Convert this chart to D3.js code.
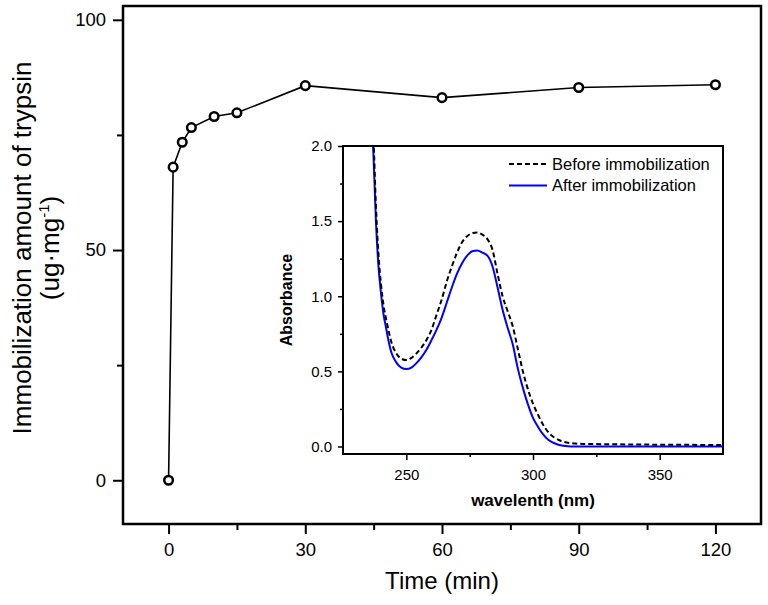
<!DOCTYPE html>
<html>
<head>
<meta charset="utf-8">
<script src="https://cdn.jsdelivr.net/npm/d3@7"></script>
<style>
  body { margin: 0; background: #fff; }
  svg { display: block; }
  text { font-family: "Liberation Sans", Arial, sans-serif; fill: #000; }
</style>
</head>
<body>
<svg id="chart" width="768" height="605"></svg>
<script>
// main plot: immobilized amount vs time
const times = [0, 1, 3, 5, 10, 15, 30, 60, 90, 120];
const amounts = [0, 68.0, 73.4, 76.6, 79.0, 79.8, 85.7, 83.1, 85.3, 85.9];
const timeTicks = [0, 30, 60, 90, 120];
const timeMinor = [15, 45, 75, 105];
const amountTicks = [0, 50, 100];
const amountMinor = [25, 75];

// inset: UV spectra
const wavelengths = [236, 237, 238, 239, 240, 241, 242, 243, 244, 246, 248, 250, 252, 254, 256, 258,
  260, 262, 264, 266, 268, 270, 272, 274, 276, 278, 280, 282, 284, 286, 288, 290, 292, 294, 296,
  298, 300, 302, 304, 306, 308, 310, 312, 315, 320, 330, 350, 375];
const before = [2.2, 2.05, 1.6, 1.28, 1.08, 0.94, 0.85, 0.77, 0.70, 0.62, 0.585, 0.575, 0.59, 0.62, 0.66, 0.71,
  0.78, 0.88, 0.98, 1.10, 1.20, 1.29, 1.36, 1.40, 1.42, 1.425, 1.41, 1.38, 1.31, 1.15, 1.00, 0.90, 0.80, 0.65, 0.50,
  0.38, 0.285, 0.21, 0.145, 0.095, 0.065, 0.045, 0.032, 0.022, 0.017, 0.015, 0.012, 0.01];
const after = [2.2, 1.95, 1.5, 1.2, 1.02, 0.88, 0.79, 0.70, 0.63, 0.56, 0.525, 0.515, 0.525, 0.555, 0.595, 0.645,
  0.71, 0.78, 0.86, 0.96, 1.06, 1.15, 1.22, 1.27, 1.30, 1.305, 1.29, 1.27, 1.20, 1.06, 0.91, 0.79, 0.68, 0.52, 0.39,
  0.28, 0.19, 0.13, 0.08, 0.045, 0.025, 0.012, 0.005, 0.0, 0.0, 0.0, 0.0, 0.0];
const waveTicks = [250, 300, 350];
const waveMinor = [275, 325];
const absTicks = [0, 0.5, 1.0, 1.5, 2.0];
const absMinor = [0.25, 0.75, 1.25, 1.75];
const seriesNames = ["Before immobilization", "After immobilization"];

const svg = d3.select("#chart");
const FONT = "Liberation Sans, Arial, sans-serif";

// ---------- main chart ----------
const x = d3.scaleLinear().domain([-10, 130]).range([123, 761]);
const y = d3.scaleLinear().domain([-9.5, 103]).range([524, 6]);

function styleAxis(g, w) {
  g.select(".domain").remove();
  g.selectAll(".tick line").attr("stroke", "#000").attr("stroke-width", w);
}

svg.append("g").attr("transform", "translate(0,524)")
  .call(d3.axisBottom(x).tickValues(timeMinor).tickSize(6).tickFormat(""))
  .call(g => styleAxis(g, 2));
svg.append("g").attr("transform", "translate(0,524)")
  .call(d3.axisBottom(x).tickValues(timeTicks).tickSize(10).tickPadding(9))
  .call(g => styleAxis(g, 2))
  .selectAll("text").attr("font-size", 18.5).style("font-family", FONT);

svg.append("g").attr("transform", "translate(123,0)")
  .call(d3.axisLeft(y).tickValues(amountMinor).tickSize(6).tickFormat(""))
  .call(g => styleAxis(g, 2));
svg.append("g").attr("transform", "translate(123,0)")
  .call(d3.axisLeft(y).tickValues(amountTicks).tickSize(10).tickPadding(7))
  .call(g => styleAxis(g, 2))
  .selectAll("text").attr("font-size", 18.5).style("font-family", FONT);

svg.append("rect")
  .attr("x", 123).attr("y", 6).attr("width", 761 - 123).attr("height", 524 - 6)
  .attr("fill", "none").attr("stroke", "#000").attr("stroke-width", 2.5);

const pts = times.map((t, i) => [t, amounts[i]]);
svg.append("path")
  .datum(pts)
  .attr("fill", "none").attr("stroke", "#000").attr("stroke-width", 1.6)
  .attr("d", d3.line().x(d => x(d[0])).y(d => y(d[1])));

svg.selectAll(".pt")
  .data(pts)
  .enter().append("circle")
  .attr("class", "pt")
  .attr("cx", d => x(d[0])).attr("cy", d => y(d[1]))
  .attr("r", 4.3)
  .attr("fill", "#fff").attr("stroke", "#000").attr("stroke-width", 2.5);

svg.append("text")
  .attr("x", 442).attr("y", 589)
  .attr("text-anchor", "middle").attr("font-size", 24)
  .text("Time (min)");

const yt = svg.append("text")
  .attr("transform", "translate(31,248) rotate(-90)")
  .attr("text-anchor", "middle").attr("font-size", 26);
yt.append("tspan").attr("x", 0).attr("y", 0).text("Immobilization amount of trypsin");
const yt2 = yt.append("tspan").attr("x", 0).attr("y", 28);
yt2.append("tspan").text("(ug\u00b7mg");
yt2.append("tspan").attr("font-size", 15).attr("dy", -10).text("-1");
yt2.append("tspan").attr("dy", 10).text(")");

// ---------- inset ----------
const ix = d3.scaleLinear().domain([225, 375]).range([343, 723]);
const iy = d3.scaleLinear().domain([-0.05, 2.0]).range([454, 146]);

svg.append("rect")
  .attr("x", 343).attr("y", 146).attr("width", 723 - 343).attr("height", 454 - 146)
  .attr("fill", "#fff");

svg.append("defs").append("clipPath").attr("id", "insetClip")
  .append("rect")
  .attr("x", 343).attr("y", 146).attr("width", 723 - 343).attr("height", 454 - 146);

svg.append("g").attr("transform", "translate(0,454)")
  .call(d3.axisBottom(ix).tickValues(waveMinor).tickSize(3).tickFormat(""))
  .call(g => styleAxis(g, 1.5));
svg.append("g").attr("transform", "translate(0,454)")
  .call(d3.axisBottom(ix).tickValues(waveTicks).tickSize(6).tickPadding(9))
  .call(g => styleAxis(g, 1.5))
  .selectAll("text").attr("font-size", 15).style("font-family", FONT);

svg.append("g").attr("transform", "translate(343,0)")
  .call(d3.axisLeft(iy).tickValues(absMinor).tickSize(3).tickFormat(""))
  .call(g => styleAxis(g, 1.5));
svg.append("g").attr("transform", "translate(343,0)")
  .call(d3.axisLeft(iy).tickValues(absTicks).tickSize(5).tickPadding(6).tickFormat(d3.format(".1f")))
  .call(g => styleAxis(g, 1.5))
  .selectAll("text").attr("font-size", 15).style("font-family", FONT);

const spec = d3.line().curve(d3.curveMonotoneX).x(d => ix(d[0])).y(d => iy(d[1]));
const curves = svg.append("g").attr("clip-path", "url(#insetClip)");
curves.append("path")
  .datum(wavelengths.map((w, i) => [w, after[i]]))
  .attr("fill", "none").attr("stroke", "#0000ff").attr("stroke-width", 2)
  .attr("d", spec);
curves.append("path")
  .datum(wavelengths.map((w, i) => [w, before[i]]))
  .attr("fill", "none").attr("stroke", "#000").attr("stroke-width", 2)
  .attr("stroke-dasharray", "5,3")
  .attr("d", spec);

svg.append("rect")
  .attr("x", 343).attr("y", 146).attr("width", 723 - 343).attr("height", 454 - 146)
  .attr("fill", "none").attr("stroke", "#000").attr("stroke-width", 2);

// legend
const legend = svg.append("g");
const legStyles = [{ stroke: "#000", dash: "5,3" }, { stroke: "#0000ff", dash: null }];
seriesNames.forEach((name, i) => {
  const ly = 164 + i * 21.5;
  legend.append("line")
    .attr("x1", 509).attr("x2", 547).attr("y1", ly).attr("y2", ly)
    .attr("stroke", legStyles[i].stroke).attr("stroke-width", 2)
    .attr("stroke-dasharray", legStyles[i].dash);
  legend.append("text")
    .attr("x", 552).attr("y", ly).attr("dy", "0.35em")
    .attr("font-size", 16.5).text(name);
});

svg.append("text")
  .attr("x", 533).attr("y", 506)
  .attr("text-anchor", "middle").attr("font-size", 17).attr("font-weight", "bold")
  .text("wavelenth (nm)");

svg.append("text")
  .attr("transform", "translate(292,300) rotate(-90)")
  .attr("text-anchor", "middle").attr("font-size", 16).attr("font-weight", "bold")
  .text("Absorbance");
</script>
</body>
</html>
